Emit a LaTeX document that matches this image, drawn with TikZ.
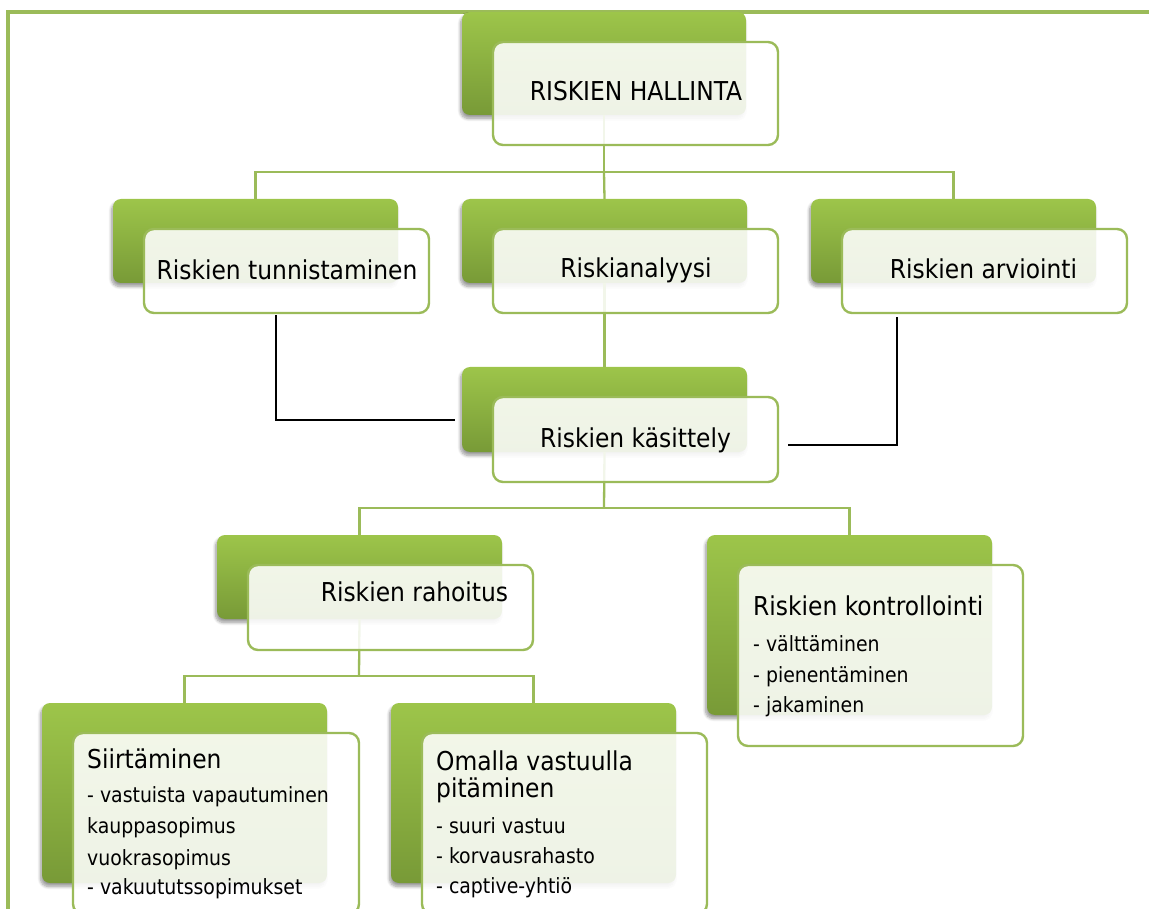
\documentclass[tikz,border=0pt]{standalone}
\usepackage{fontspec}
\IfFontExistsTF{DejaVu Sans Condensed}
  {\setmainfont{DejaVu Sans Condensed}}
  {\setmainfont{DejaVu Sans}[FakeStretch=0.9]}
\usetikzlibrary{shadows.blur}

\definecolor{lineG}{HTML}{9BBB59}
\definecolor{gTop}{HTML}{9DC54A}
\definecolor{gMid}{HTML}{93BA45}
\definecolor{gBot}{HTML}{789A37}

\tikzset{
  backtile/.style={rectangle, rounded corners=8pt, inner sep=0pt,
    top color=gTop, middle color=gMid, bottom color=gBot, draw=none,
    blur shadow={shadow xshift=-1.5pt, shadow yshift=-3.5pt,
                 shadow blur steps=8, shadow blur radius=3pt, shadow opacity=40}},
  pane/.style={rectangle, rounded corners=10pt, inner sep=0pt,
    draw=lineG, line width=2.4pt, fill=white, fill opacity=0.88},
  link/.style={draw=lineG, line width=2.3pt},
  blink/.style={draw=black, line width=1.9pt},
  frameline/.style={draw=lineG, line width=3.2pt},
  big/.style={font=\fontsize{26}{30}\selectfont, inner sep=0pt, anchor=base, text=black},
  bigl/.style={big, anchor=base west},
  small/.style={font=\fontsize{21}{25}\selectfont, inner sep=0pt, anchor=base west, text=black},
}

% back tile: name, left, top, width, height
\newcommand\backtile[5]{%
  \node[backtile, minimum width=#4pt, minimum height=#5pt] (#1-b) at ({#2+#4/2},{#3+#5/2}) {};}
% front pane, offset from its back tile
\newcommand\frontpane[5]{%
  \node[pane, minimum width=#4pt, minimum height=#5pt] (#1) at ({#2+31+#4/2},{#3+30+#5/2}) {};}

\begin{document}
\begin{tikzpicture}[x=1pt, y=-1pt]
  \useasboundingbox (0,0) rectangle (1149,909);

  % outer frame
  \draw[frameline] (8,920) -- (8,12) -- (1160,12);

  % green back tiles
  \backtile{hal}{462}{12}{284}{103}
  \backtile{tun}{113}{199}{285}{84}
  \backtile{ana}{462}{199}{285}{84}
  \backtile{arv}{811}{199}{285}{84}
  \backtile{kas}{462}{367}{285}{85}
  \backtile{rah}{217}{535}{285}{84}
  \backtile{kon}{707}{535}{285}{180}
  \backtile{sii}{42}{703}{285}{180}
  \backtile{oma}{391}{703}{285}{180}

  % tree connectors
  \coordinate (j1) at (604,172);
  \coordinate (j2) at (604,508);
  \coordinate (j3) at (359,676);
  \draw[link] (hal-b.south) -- (j1);
  \draw[link] (j1) -| (tun-b.north);
  \draw[link] (j1) -| (arv-b.north);
  \draw[link] (j1) -- (ana-b.north);
  \draw[link] (ana-b.south) -- (kas-b.north);
  \draw[link] (kas-b.south) -- (j2);
  \draw[link] (j2) -| (rah-b.north);
  \draw[link] (j2) -| (kon-b.north);
  \draw[link] (rah-b.south) -- (j3);
  \draw[link] (j3) -| (sii-b.north);
  \draw[link] (j3) -| (oma-b.north);

  % front panes
  \frontpane{hal}{462}{12}{285}{103}
  \frontpane{tun}{113}{199}{285}{84}
  \frontpane{ana}{462}{199}{285}{84}
  \frontpane{arv}{811}{199}{285}{84}
  \frontpane{kas}{462}{367}{285}{85}
  \frontpane{rah}{217}{535}{285}{85}
  \frontpane{kon}{707}{535}{285}{181}
  \frontpane{sii}{42}{703}{286}{181}
  \frontpane{oma}{391}{703}{285}{181}

  % side links into "Riskien käsittely"
  \coordinate (c1) at (276,420);
  \coordinate (c2) at (897,445);
  \draw[blink] ([yshift=-1pt]tun.south -| c1) -- (c1) -- ([xshift=-7pt]kas-b.west |- c1);
  \draw[blink] ([yshift=-3pt]arv.south -| c2) -- (c2) -- ([xshift=9pt]kas.east |- c2);

  % labels
  \node[big] (t-hal) at (636,101) {RISKIEN HALLINTA};
  \node[big] (t-tun) at (287,280) {Riskien tunnistaminen};
  \node[big] (t-ana) at (636,278) {Riskianalyysi};
  \node[big] (t-arv) at (983.5,279) {Riskien arviointi};
  \node[big] (t-kas) at (635.5,447) {Riskien käsittely};
  \node[big] (t-rah) at (414.5,601) {Riskien rahoitus};

  \node[bigl]  (t-kon)  at (753,615) {Riskien kontrollointi};
  \node[small] (t-kon1) at (753,651) {- välttäminen};
  \node[small] (t-kon2) at (753,682) {- pienentäminen};
  \node[small] (t-kon3) at (753,712) {- jakaminen};

  \node[bigl]  (t-sii)  at (87,768) {Siirtäminen};
  \node[small] (t-sii1) at (87,802) {- vastuista vapautuminen};
  \node[small] (t-sii2) at (87,833) {kauppasopimus};
  \node[small] (t-sii3) at (87,865) {vuokrasopimus};
  \node[small] (t-sii4) at (87,894) {- vakuututssopimukset};

  \node[bigl]  (t-oma)  at (436,770) {Omalla vastuulla};
  \node[bigl]  (t-oma0) at (436,797) {pitäminen};
  \node[small] (t-oma1) at (436,833) {- suuri vastuu};
  \node[small] (t-oma2) at (436,863) {- korvausrahasto};
  \node[small] (t-oma3) at (436,893) {- captive-yhtiö};
\end{tikzpicture}
\end{document}
